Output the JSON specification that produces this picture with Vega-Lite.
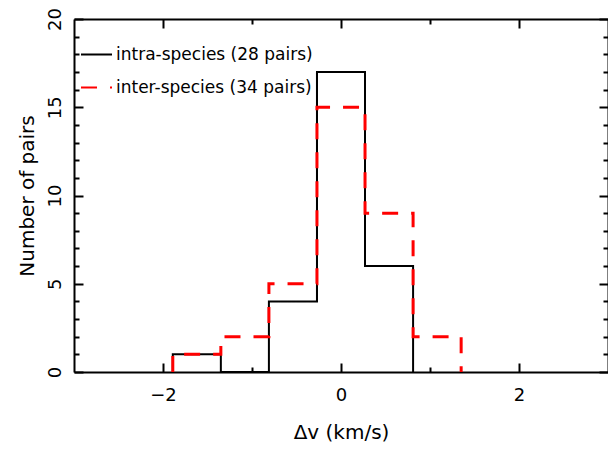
{
  "$schema": "https://vega.github.io/schema/vega-lite/v6.json",
  "autosize": "none",
  "width": 534,
  "height": 353,
  "padding": {"left": 74, "top": 19, "right": 0, "bottom": 77},
  "background": "white",
  "config": {
    "view": {"stroke": null},
    "font": "DejaVu Sans",
    "axis": {"grid": false, "domainColor": "black", "domainWidth": 2, "tickColor": "black", "tickWidth": 2, "labelColor": "black", "titleColor": "black", "labelFont": "DejaVu Sans", "titleFont": "DejaVu Sans", "titleFontWeight": "normal"}
  },
  "data": {
    "values": [
      {"series": "intra-species (28 pairs)", "i": 0, "dv": -1.89, "n": 0},
      {"series": "intra-species (28 pairs)", "i": 1, "dv": -1.89, "n": 1},
      {"series": "intra-species (28 pairs)", "i": 2, "dv": -1.35, "n": 0},
      {"series": "intra-species (28 pairs)", "i": 3, "dv": -0.81, "n": 4},
      {"series": "intra-species (28 pairs)", "i": 4, "dv": -0.27, "n": 17},
      {"series": "intra-species (28 pairs)", "i": 5, "dv": 0.27, "n": 6},
      {"series": "intra-species (28 pairs)", "i": 6, "dv": 0.81, "n": 0},
      {"series": "inter-species (34 pairs)", "i": 0, "dv": -1.89, "n": 0},
      {"series": "inter-species (34 pairs)", "i": 1, "dv": -1.89, "n": 1},
      {"series": "inter-species (34 pairs)", "i": 2, "dv": -1.35, "n": 2},
      {"series": "inter-species (34 pairs)", "i": 3, "dv": -0.81, "n": 5},
      {"series": "inter-species (34 pairs)", "i": 4, "dv": -0.27, "n": 15},
      {"series": "inter-species (34 pairs)", "i": 5, "dv": 0.27, "n": 9},
      {"series": "inter-species (34 pairs)", "i": 6, "dv": 0.81, "n": 2},
      {"series": "inter-species (34 pairs)", "i": 7, "dv": 1.35, "n": 0}
    ]
  },
  "resolve": {"axis": {"x": "independent", "y": "independent"}},
  "layer": [
    {
      "transform": [{"filter": "datum.series === 'intra-species (28 pairs)'"}],
      "mark": {"type": "line", "interpolate": "step-after", "strokeWidth": 2},
      "encoding": {
        "x": {"field": "dv", "type": "quantitative", "scale": {"domain": [-3, 3], "nice": false, "zero": false},
          "axis": {"orient": "bottom", "values": [-2, -1, 0, 1, 2], "tickSize": {"condition": {"test": "datum.value % 2 === 0", "value": -9}, "value": -5}, "labelPadding": {"condition": {"test": "datum.value % 2 === 0", "value": 23}, "value": 19}, "labelExpr": "datum.value % 2 === 0 ? datum.label : ''", "labelFontSize": 18, "title": "Δv (km/s)", "titleFontSize": 20, "titlePadding": 18}},
        "y": {"field": "n", "type": "quantitative", "scale": {"domain": [0, 20], "nice": false},
          "axis": {"orient": "left", "values": [0,1,2,3,4,5,6,7,8,9,10,11,12,13,14,15,16,17,18,19,20], "tickSize": {"condition": {"test": "datum.value % 5 === 0", "value": -9}, "value": -5}, "labelPadding": {"condition": {"test": "datum.value % 5 === 0", "value": 19}, "value": 15}, "labelExpr": "datum.value % 5 === 0 ? datum.label : ''", "labelFontSize": 18, "labelAngle": -90, "labelAlign": "center", "labelBaseline": "bottom", "title": "Number of pairs", "titleFontSize": 20, "titlePadding": 9}},
        "order": {"field": "i", "type": "quantitative"},
        "color": {"field": "series", "type": "nominal", "scale": {"domain": ["intra-species (28 pairs)", "inter-species (34 pairs)"], "range": ["black", "#ff0000"]},
          "legend": {"title": null, "orient": "none", "legendX": 6, "legendY": 19, "symbolType": "stroke", "symbolSize": 961, "symbolStrokeWidth": 2, "labelFontSize": 17, "labelColor": "black", "labelFont": "DejaVu Sans", "labelOffset": 3, "rowPadding": 8, "padding": 0, "labelLimit": 400}},
        "strokeDash": {"field": "series", "type": "nominal", "scale": {"domain": ["intra-species (28 pairs)", "inter-species (34 pairs)"], "range": [[1, 0], [16, 13]]}, "legend": null}
      }
    },
    {
      "transform": [{"filter": "datum.series === 'inter-species (34 pairs)'"}],
      "mark": {"type": "line", "interpolate": "step-after", "strokeWidth": 3},
      "encoding": {
        "x": {"field": "dv", "type": "quantitative", "scale": {"domain": [-3, 3], "nice": false, "zero": false},
          "axis": {"orient": "top", "values": [-2, -1, 0, 1, 2], "tickSize": {"condition": {"test": "datum.value % 2 === 0", "value": -9}, "value": -5}, "labels": false, "title": null}},
        "y": {"field": "n", "type": "quantitative", "scale": {"domain": [0, 20], "nice": false},
          "axis": {"orient": "right", "values": [0,1,2,3,4,5,6,7,8,9,10,11,12,13,14,15,16,17,18,19,20], "tickSize": {"condition": {"test": "datum.value % 5 === 0", "value": -9}, "value": -5}, "labels": false, "title": null}},
        "order": {"field": "i", "type": "quantitative"},
        "color": {"field": "series", "type": "nominal", "scale": {"domain": ["intra-species (28 pairs)", "inter-species (34 pairs)"], "range": ["black", "#ff0000"]}},
        "strokeDash": {"field": "series", "type": "nominal", "scale": {"domain": ["intra-species (28 pairs)", "inter-species (34 pairs)"], "range": [[1, 0], [16, 13]]}}
      }
    }
  ]
}
